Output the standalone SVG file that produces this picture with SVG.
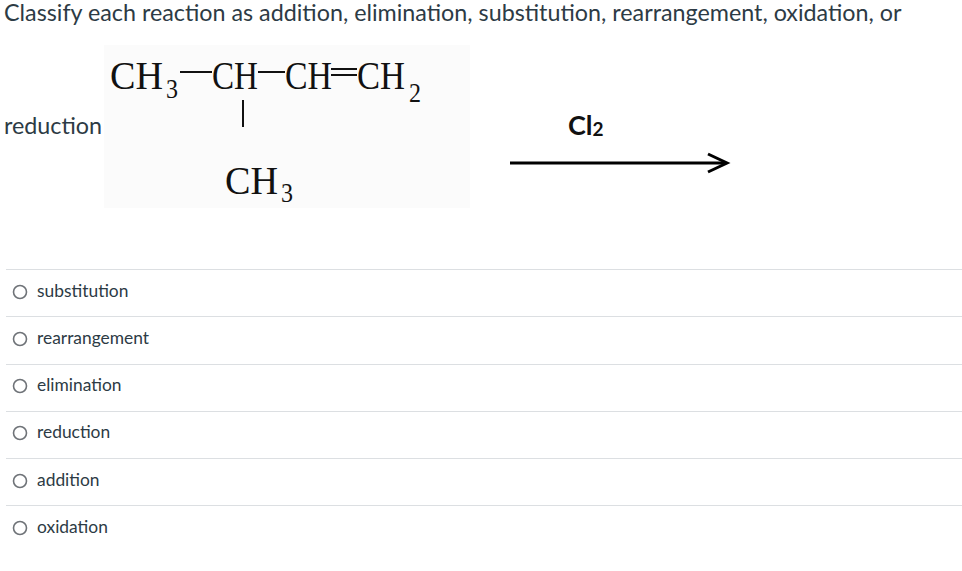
<svg xmlns="http://www.w3.org/2000/svg" width="962" height="571" viewBox="0 0 962 571">
<style>
.q{font-family:Lato,"Liberation Sans",sans-serif;font-size:23.3px;fill:#2d3b45}
.o{font-family:Lato,"Liberation Sans",sans-serif;font-size:17.4px;fill:#2d3b45}
.f{font-family:"Liberation Serif",serif;font-size:41px;fill:#111}
.s{font-family:"Liberation Serif",serif;font-size:28px;fill:#111}
.sep{stroke:#dcdfe2;stroke-width:1}
.r{fill:#fff;stroke:#6f7378;stroke-width:1.6}
.b{stroke:#111;stroke-width:2}
</style>
<rect width="962" height="571" fill="#fff"/>
<text class="q" x="4" y="21">Classify each reaction as addition, elimination, substitution, rearrangement, oxidation, or</text>
<text class="q" x="4" y="134">reduction</text>
<rect x="104" y="45" width="366" height="163" fill="#fbfbfb"/>
<text class="f" x="110" y="89" textLength="53" lengthAdjust="spacingAndGlyphs">CH</text><text class="s" x="166" y="98" textLength="12" lengthAdjust="spacingAndGlyphs">3</text>
<line class="b" x1="180" y1="72" x2="212" y2="72"/>
<text class="f" x="212" y="89" textLength="46" lengthAdjust="spacingAndGlyphs">CH</text>
<line class="b" x1="258" y1="72" x2="285" y2="72"/>
<text class="f" x="285" y="89" textLength="47" lengthAdjust="spacingAndGlyphs">CH</text>
<line class="b" x1="331" y1="69" x2="357" y2="69"/>
<line class="b" x1="331" y1="75" x2="357" y2="75"/>
<text class="f" x="357" y="89" textLength="48" lengthAdjust="spacingAndGlyphs">CH</text><text class="s" x="409" y="102" textLength="12" lengthAdjust="spacingAndGlyphs">2</text>
<line class="b" x1="243" y1="100" x2="243" y2="127"/>
<text class="f" x="225" y="194" textLength="53" lengthAdjust="spacingAndGlyphs">CH</text><text class="s" x="281" y="202" textLength="12" lengthAdjust="spacingAndGlyphs">3</text>
<text x="568" y="135" font-family="Lato,'Liberation Sans',sans-serif" font-weight="bold" font-size="27" fill="#111">Cl<tspan font-size="19" dy="1">2</tspan></text>
<line x1="510" y1="163" x2="724" y2="163" stroke="#000" stroke-width="3"/>
<path d="M708 154 L727 163 L708 172" fill="none" stroke="#000" stroke-width="3"/>
<g>
<line class="sep" x1="6" y1="269.5" x2="962" y2="269.5"/>
<line class="sep" x1="6" y1="316.5" x2="962" y2="316.5"/>
<line class="sep" x1="6" y1="364.5" x2="962" y2="364.5"/>
<line class="sep" x1="6" y1="411.5" x2="962" y2="411.5"/>
<line class="sep" x1="6" y1="458.5" x2="962" y2="458.5"/>
<line class="sep" x1="6" y1="505.5" x2="962" y2="505.5"/>
</g>
<circle class="r" cx="20" cy="292" r="6.5"/><text class="o" x="37" y="297">substitution</text>
<circle class="r" cx="20" cy="339" r="6.5"/><text class="o" x="37" y="344">rearrangement</text>
<circle class="r" cx="20" cy="386" r="6.5"/><text class="o" x="37" y="391">elimination</text>
<circle class="r" cx="20" cy="433" r="6.5"/><text class="o" x="37" y="438">reduction</text>
<circle class="r" cx="20" cy="481" r="6.5"/><text class="o" x="37" y="486">addition</text>
<circle class="r" cx="20" cy="528" r="6.5"/><text class="o" x="37" y="533">oxidation</text>
</svg>
